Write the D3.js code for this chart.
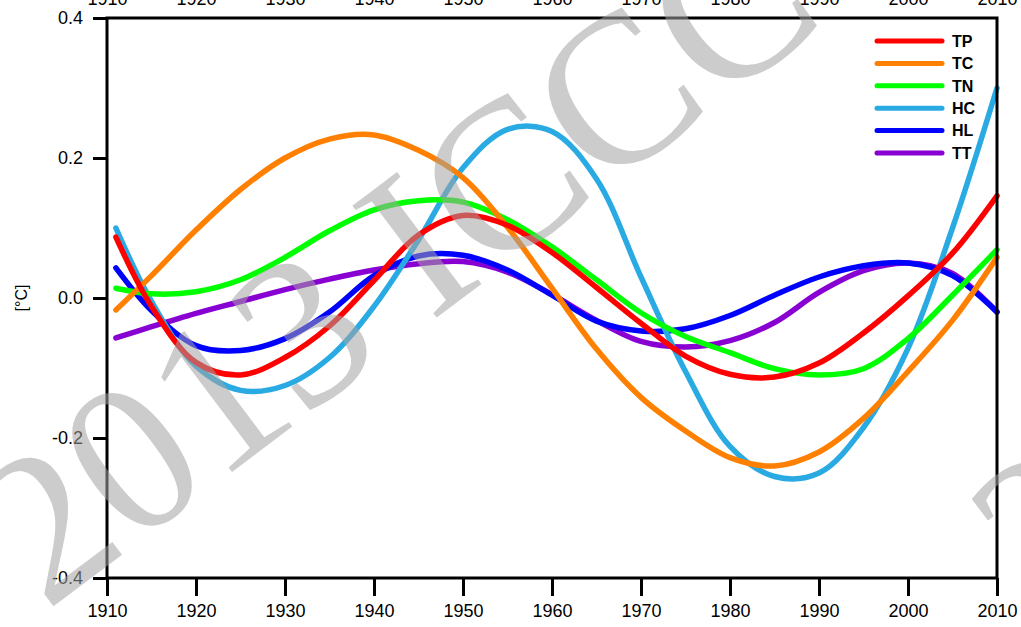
<!DOCTYPE html>
<html>
<head>
<meta charset="utf-8">
<script src="https://cdn.jsdelivr.net/npm/d3@7"></script>
<style>
  html, body { margin: 0; padding: 0; background: #fff; }
  svg { display: block; font-family: "Liberation Sans", Arial, sans-serif; }
</style>
</head>
<body>
<div id="container"></div>
<script>
/* CONSTANTS AND GLOBALS */
const width = 1021;
const height = 627;
const margin = {top: 18, bottom: 49, left: 107, right: 23};

/* DATA */
const years = [1911, 1915, 1920, 1925, 1930, 1935, 1940, 1945, 1950, 1955, 1960,
               1965, 1970, 1975, 1980, 1985, 1990, 1995, 2000, 2005, 2010];
const tp = [0.087, -0.012, -0.092, -0.110, -0.085, -0.040, 0.025, 0.090, 0.118, 0.104, 0.065,
            0.015, -0.036, -0.083, -0.109, -0.113, -0.093, -0.050, 0.003, 0.064, 0.146];
const tc = [-0.017, 0.032, 0.097, 0.155, 0.200, 0.227, 0.233, 0.211, 0.172, 0.101, 0.014,
            -0.073, -0.142, -0.190, -0.228, -0.240, -0.220, -0.172, -0.105, -0.032, 0.058];
const tn = [0.014, 0.006, 0.009, 0.026, 0.058, 0.096, 0.126, 0.139, 0.137, 0.112, 0.073,
            0.026, -0.021, -0.055, -0.078, -0.101, -0.110, -0.101, -0.058, 0.004, 0.069];
const hc = [0.100, -0.005, -0.097, -0.132, -0.125, -0.085, -0.012, 0.083, 0.186, 0.241, 0.238,
            0.170, 0.030, -0.105, -0.212, -0.255, -0.250, -0.185, -0.072, 0.100, 0.300];
const hl = [0.043, -0.018, -0.068, -0.075, -0.058, -0.020, 0.032, 0.060, 0.061, 0.040, 0.004,
            -0.033, -0.047, -0.044, -0.025, 0.004, 0.030, 0.046, 0.050, 0.032, -0.020];
const tt = [-0.057, -0.041, -0.022, -0.005, 0.012, 0.027, 0.040, 0.049, 0.052, 0.037, 0.005,
            -0.032, -0.062, -0.070, -0.061, -0.035, 0.008, 0.039, 0.050, 0.035, -0.020];

const seriesNames = ["TP", "TC", "TN", "HC", "HL", "TT"];
const seriesValues = [tp, tc, tn, hc, hl, tt];
const xTicks = [1910, 1920, 1930, 1940, 1950, 1960, 1970, 1980, 1990, 2000, 2010];
const yTicks = [-0.4, -0.2, 0.0, 0.2, 0.4];

const series = seriesNames.map((name, i) => ({
  name: name,
  values: years.map((yr, j) => ({year: yr, value: seriesValues[i][j]}))
}));

/* SCALES */
const xScale = d3.scaleLinear()
  .domain([1910, 2010])
  .range([margin.left, width - margin.right - 1])

const yScale = d3.scaleLinear()
  .domain([-0.4, 0.4])
  .range([height - margin.bottom, margin.top])

const colorScale = d3.scaleOrdinal()
  .domain(seriesNames)
  .range(["#ff0000", "#ff8000", "#00ff00", "#2aaae2", "#0000ff", "#8800d2"])

/* HTML ELEMENTS */
const svg = d3.select("#container")
  .append("svg")
  .attr("width", width)
  .attr("height", height)

// lines (drawn last-to-first so TP ends up on top)
const line = d3.line()
  .x(d => xScale(d.year))
  .y(d => yScale(d.value))
  .curve(d3.curveCatmullRom.alpha(0.5))

svg.append("g")
  .selectAll("path")
  .data(series.slice().reverse())
  .join("path")
    .attr("d", d => line(d.values))
    .attr("fill", "none")
    .attr("stroke", d => colorScale(d.name))
    .attr("stroke-width", 5.5)
    .attr("stroke-linecap", "round")

// frame
svg.append("rect")
  .attr("x", xScale(1910))
  .attr("y", yScale(0.4))
  .attr("width", xScale(2010) - xScale(1910))
  .attr("height", yScale(-0.4) - yScale(0.4))
  .attr("fill", "none")
  .attr("stroke", "black")
  .attr("stroke-width", 3)

// axes
const xAxis = d3.axisBottom(xScale)
  .tickValues(xTicks)
  .tickFormat(d3.format("d"))
  .tickSize(18)
  .tickPadding(8)

// top labels sit partly above the page edge, as in the original
const xAxisTop = d3.axisTop(xScale)
  .tickValues(xTicks)
  .tickFormat(d3.format("d"))
  .tickSize(0)
  .tickPadding(13)

const yAxis = d3.axisLeft(yScale)
  .tickValues(yTicks)
  .tickFormat(d => d.toFixed(1))
  .tickSize(14)
  .tickPadding(10)

const gx = svg.append("g")
  .attr("transform", `translate(0, ${yScale(-0.4)})`)
  .call(xAxis)

const gxTop = svg.append("g")
  .attr("transform", `translate(0, ${yScale(0.4)})`)
  .call(xAxisTop)

const gy = svg.append("g")
  .attr("transform", `translate(${xScale(1910)}, 0)`)
  .call(yAxis)

;[gx, gxTop, gy].forEach(g => {
  g.select(".domain").remove()
  g.selectAll(".tick line").attr("stroke", "black").attr("stroke-width", 3)
  g.selectAll(".tick text")
    .attr("fill", "black")
    .style("font-size", "18px")
    .style("font-family", "'Liberation Sans', Arial, sans-serif")
})

// y axis label
svg.append("text")
  .attr("transform", `translate(27, ${yScale(0)}) rotate(-90)`)
  .attr("text-anchor", "middle")
  .style("font-size", "16px")
  .text("[°C]")

// legend
const legend = svg.append("g")
  .selectAll("g")
  .data(seriesNames)
  .join("g")
    .attr("transform", (d, i) => `translate(877, ${41 + i * 22.4})`)

legend.append("line")
  .attr("x1", 0)
  .attr("x2", 65)
  .attr("stroke", d => colorScale(d))
  .attr("stroke-width", 5)
  .attr("stroke-linecap", "round")

legend.append("text")
  .attr("x", 75)
  .attr("dy", "0.36em")
  .style("font-size", "16px")
  .style("font-weight", "bold")
  .text(d => d)

// watermark
const wmOrigins = [[46, 612], [1043, 617]];
svg.append("g")
  .selectAll("text")
  .data(wmOrigins)
  .join("text")
    .attr("transform", d => `translate(${d[0]}, ${d[1]}) rotate(-37)`)
    .style("font-family", "'Liberation Serif', 'Times New Roman', serif")
    .style("font-size", "214px")
    .attr("fill", "#a2a2a2")
    .attr("fill-opacity", 0.55)
    .text("2013 ICCC")
</script>
</body>
</html>
